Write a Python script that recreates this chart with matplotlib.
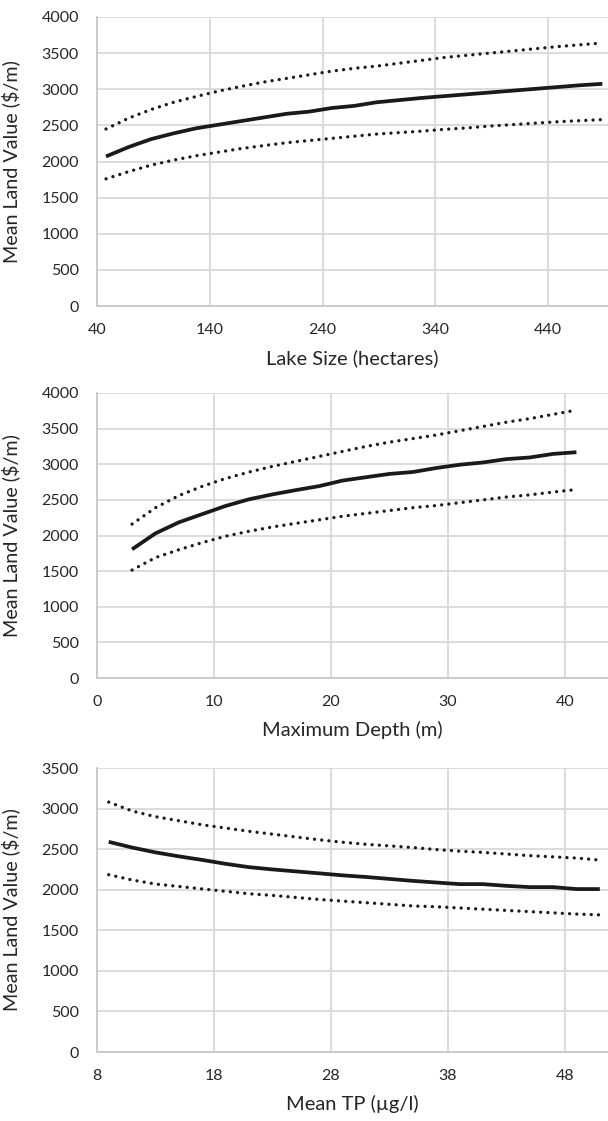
import matplotlib
matplotlib.use("Agg")
import matplotlib.pyplot as plt

plt.rcParams['font.family'] = ['Lato', 'DejaVu Sans']

# Panel 1: Lake size
size_x = [48, 68, 88, 108, 128, 148, 168, 188, 208, 228, 248, 268, 288, 308, 328, 348, 368, 388, 408, 428, 448, 468, 488]
size_mean = [2070, 2200, 2310, 2390, 2460, 2510, 2560, 2610, 2660, 2690, 2740, 2770, 2820, 2850, 2880, 2905, 2930, 2955, 2980, 3005, 3030, 3055, 3075]
size_upper = [2450, 2600, 2720, 2820, 2900, 2975, 3040, 3100, 3150, 3200, 3250, 3290, 3320, 3360, 3400, 3440, 3470, 3500, 3530, 3560, 3590, 3615, 3640]
size_lower = [1760, 1860, 1950, 2020, 2080, 2130, 2180, 2220, 2260, 2290, 2320, 2350, 2380, 2400, 2420, 2445, 2465, 2490, 2510, 2530, 2550, 2565, 2580]

# Panel 2: Maximum depth
depth_x = [3, 5, 7, 9, 11, 13, 15, 17, 19, 21, 23, 25, 27, 29, 31, 33, 35, 37, 39, 41]
depth_mean = [1806, 2030, 2185, 2300, 2415, 2508, 2577, 2637, 2693, 2771, 2818, 2864, 2891, 2947, 2993, 3025, 3072, 3095, 3145, 3169]
depth_upper = [2160, 2390, 2560, 2690, 2800, 2890, 2970, 3040, 3110, 3180, 3250, 3310, 3360, 3410, 3470, 3530, 3590, 3640, 3700, 3760]
depth_lower = [1515, 1690, 1800, 1900, 1990, 2060, 2120, 2170, 2220, 2270, 2310, 2350, 2390, 2420, 2460, 2500, 2540, 2570, 2610, 2645]

# Panel 3: Mean TP
tp_x = [9, 11, 13, 15, 17, 19, 21, 23, 25, 27, 29, 31, 33, 35, 37, 39, 41, 43, 45, 47, 49, 51]
tp_mean = [2590, 2520, 2460, 2411, 2367, 2319, 2278, 2250, 2226, 2202, 2177, 2157, 2133, 2109, 2089, 2069, 2069, 2048, 2032, 2032, 2008, 2008]
tp_upper = [3080, 2970, 2900, 2850, 2800, 2760, 2720, 2685, 2650, 2615, 2585, 2560, 2540, 2520, 2495, 2475, 2460, 2440, 2420, 2405, 2390, 2365]
tp_lower = [2185, 2120, 2070, 2040, 2010, 1980, 1950, 1930, 1905, 1880, 1860, 1840, 1820, 1800, 1790, 1775, 1760, 1745, 1730, 1715, 1700, 1690]

panels = [
    dict(x=size_x, m=size_mean, u=size_upper, l=size_lower, xlim=(40, 493), xticks=[40, 140, 240, 340, 440],
         ylim=(0, 4000), yticks=list(range(0, 4001, 500)), xlabel='Lake Size (hectares)', rect=(17, 306)),
    dict(x=depth_x, m=depth_mean, u=depth_upper, l=depth_lower, xlim=(0, 43.7), xticks=[0, 10, 20, 30, 40],
         ylim=(0, 4000), yticks=list(range(0, 4001, 500)), xlabel='Maximum Depth (m)', rect=(393, 678)),
    dict(x=tp_x, m=tp_mean, u=tp_upper, l=tp_lower, xlim=(8, 51.7), xticks=[8, 18, 28, 38, 48],
         ylim=(0, 3500), yticks=list(range(0, 3501, 500)), xlabel='Mean TP (µg/l)', rect=(768, 1052)),
]

W, H = 608, 1121
fig = plt.figure(figsize=(W / 100, H / 100), dpi=100)

grid_c = '#d9d9d9'
axis_c = '#c8c8c8'
text_c = '#262626'

for p in panels:
    top, bot = p['rect']
    left = 97 / W
    ax = fig.add_axes([left, (H - bot) / H, (W - 97) / W, (bot - top) / H])
    ax.plot(p['x'], p['m'], color='#1a1a1a', lw=2.7, solid_capstyle='butt', zorder=3, clip_on=False)
    for series in (p['u'], p['l']):
        ax.plot(p['x'], series, color='#1a1a1a', lw=2.4, linestyle=(0, (0.01, 2.16)),
                dash_capstyle='round', zorder=3, clip_on=False)
    ax.set_xlim(*p['xlim'])
    ax.set_ylim(*p['ylim'])
    ax.set_xticks(p['xticks'])
    ax.set_yticks(p['yticks'])
    ax.grid(True, color=grid_c, lw=1.3)
    ax.set_axisbelow(True)
    for s in ('top', 'right'):
        ax.spines[s].set_visible(False)
    for s in ('left', 'bottom'):
        ax.spines[s].set_color(axis_c)
        ax.spines[s].set_linewidth(1.3)
    ax.tick_params(length=0, labelsize=11.5, colors=text_c)
    ax.tick_params(axis='y', pad=13)
    ax.tick_params(axis='x', pad=12)
    ax.set_xlabel(p['xlabel'], fontsize=14.5, color=text_c, labelpad=9)
    ax.set_ylabel('Mean Land Value ($/m)', fontsize=14.2, color=text_c)
    ax.yaxis.set_label_coords(-(97 - 20) / (W - 97), 0.5)

fig.savefig('out.png', dpi=100)
